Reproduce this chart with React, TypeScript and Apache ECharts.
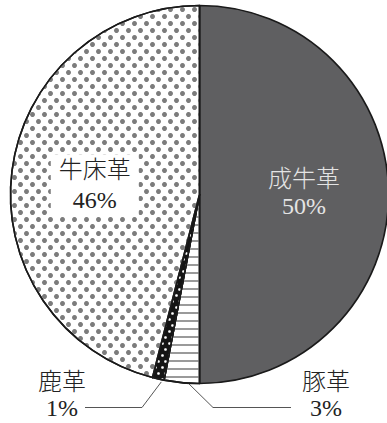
import React, { useEffect, useRef } from "react";
import * as echarts from "echarts";

const categories = ["成牛革", "豚革", "鹿革", "牛床革"];
const shares = [50, 3, 1, 46];

const FONT = "'Liberation Serif', 'DejaVu Serif', 'Noto Sans CJK JP', serif";

export default function App() {
  const ref = useRef<HTMLDivElement>(null);
  useEffect(() => {
    if (!ref.current) return;
    const chart = echarts.init(ref.current, undefined, { renderer: "svg" });
    const border = { borderColor: "#1a1a1a", borderWidth: 1.6 };
    const data = categories.map((name, i) => {
      const base: any = { name, value: shares[i] };
      if (i === 0) {
        base.itemStyle = { color: "#5f5f61", ...border };
        base.label = { position: "inside", color: "#e4e4e4", lineHeight: 27 };
        base.labelLine = { show: false };
      } else if (i === 1) {
        base.itemStyle = {
          color: "#ffffff",
          ...border,
          decal: { symbol: "rect", symbolSize: 1, color: "#9a9a9a", dashArrayX: [1, 0], dashArrayY: [2, 6] },
        };
        base.label = { position: "outside", color: "#222", lineHeight: 26, overflow: "none", width: 60 };
      } else if (i === 2) {
        base.itemStyle = {
          color: "#141414",
          ...border,
          decal: { symbol: "circle", symbolSize: 0.9, color: "#ffffff", dashArrayX: [[3, 4], [0, 3, 3, 1]], dashArrayY: [3, 3] },
        };
        base.label = { position: "outside", color: "#222", lineHeight: 26, overflow: "none", width: 60 };
      } else {
        base.itemStyle = {
          color: "#ffffff",
          ...border,
          decal: { symbol: "circle", symbolSize: 1, color: "#7c7c7c", dashArrayX: [[5, 7], [0, 6, 5, 1]], dashArrayY: [5, 2] },
        };
        base.label = {
          position: "inside",
          color: "#222",
          backgroundColor: "#ffffff",
          padding: [1, 8],
          lineHeight: 30,
        };
        base.labelLine = { show: false };
      }
      return base;
    });
    chart.setOption({
      animation: false,
      series: [
        {
          type: "pie",
          center: [199.5, 194.5],
          radius: 189,
          startAngle: 90,
          clockwise: true,
          data,
          label: {
            formatter: "{b}\n{c}%",
            fontFamily: FONT,
            fontSize: 24,
            fontWeight: 300,
            align: "center",
          },
          labelLine: { show: true, lineStyle: { color: "#555", width: 1 } },
          labelLayout: (p: any) => {
            if (p.dataIndex === 0) return { dx: 7, dy: -2 };
            if (p.dataIndex === 3) return { dx: -8, dy: 3 };
            const start = p.labelLinePoints ? p.labelLinePoints[0] : [0, 0];
            if (p.dataIndex === 2) {
              return {
                x: 62,
                y: 395,
                align: "center",
                verticalAlign: "middle",
                labelLinePoints: [[start[0] + 3, start[1] + 3], [142, 407.5], [85, 407.5]],
              };
            }
            return {
              x: 326,
              y: 395,
              align: "center",
              verticalAlign: "middle",
              labelLinePoints: [[start[0] + 6, start[1]], [213, 407.5], [291, 407.5]],
            };
          },
        },
      ],
    });
    return () => chart.dispose();
  }, []);
  return (
    <div
      ref={ref}
      style={{ position: "absolute", left: 0, top: 0, width: 387, height: 423, background: "#fff" }}
    />
  );
}
